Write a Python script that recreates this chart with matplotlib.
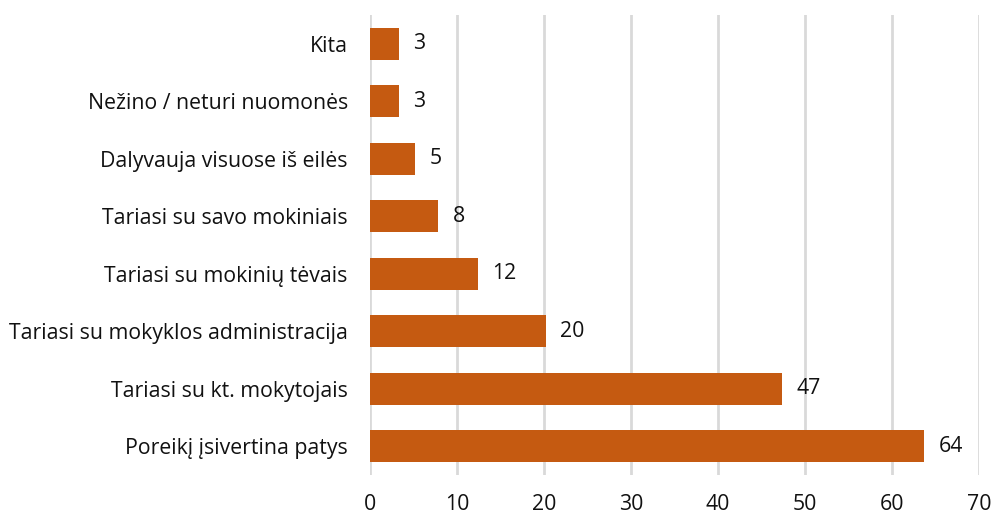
import matplotlib.pyplot as plt

categories = ['Kita', 'Nežino / neturi nuomonės', 'Dalyvauja visuose iš eilės',
              'Tariasi su savo mokiniais', 'Tariasi su mokinių tėvais',
              'Tariasi su mokyklos administracija', 'Tariasi su kt. mokytojais',
              'Poreikį įsivertina patys']
values = [3.3, 3.3, 5.2, 7.8, 12.4, 20.2, 47.4, 63.7]
xticks = [0, 10, 20, 30, 40, 50, 60, 70]

plt.rcParams['font.family'] = ['Open Sans', 'DejaVu Sans']
fs = 15.3
txt = '#111111'

fig = plt.figure(figsize=(9.91, 5.16), dpi=100)
ax = fig.add_axes([370/991, 1 - 475/516, 609/991, 460/516])

pos = list(range(len(categories)))
ax.barh(pos, values, height=0.56, color='#C55A11', zorder=3)
for y, v in zip(pos, values):
    ax.annotate(f'{v:.0f}', (v, y), xytext=(10.5, 0), textcoords='offset points',
                va='center', ha='left', fontsize=fs, color=txt)

ax.set_yticks(pos)
ax.set_yticklabels(categories, fontsize=fs, color=txt)
ax.set_xticks(xticks)
ax.set_xticklabels([str(t) for t in xticks], fontsize=fs, color=txt)
ax.set_xlim(0, 70)
ax.set_ylim(len(categories) - 0.5, -0.5)
ax.tick_params(axis='both', length=0)
ax.tick_params(axis='y', pad=16)
ax.tick_params(axis='x', pad=14)
ax.grid(axis='x', color='#D9D9D9', linewidth=2, zorder=0)
for s in ax.spines.values():
    s.set_visible(False)

fig.savefig('out.png', dpi=100)
